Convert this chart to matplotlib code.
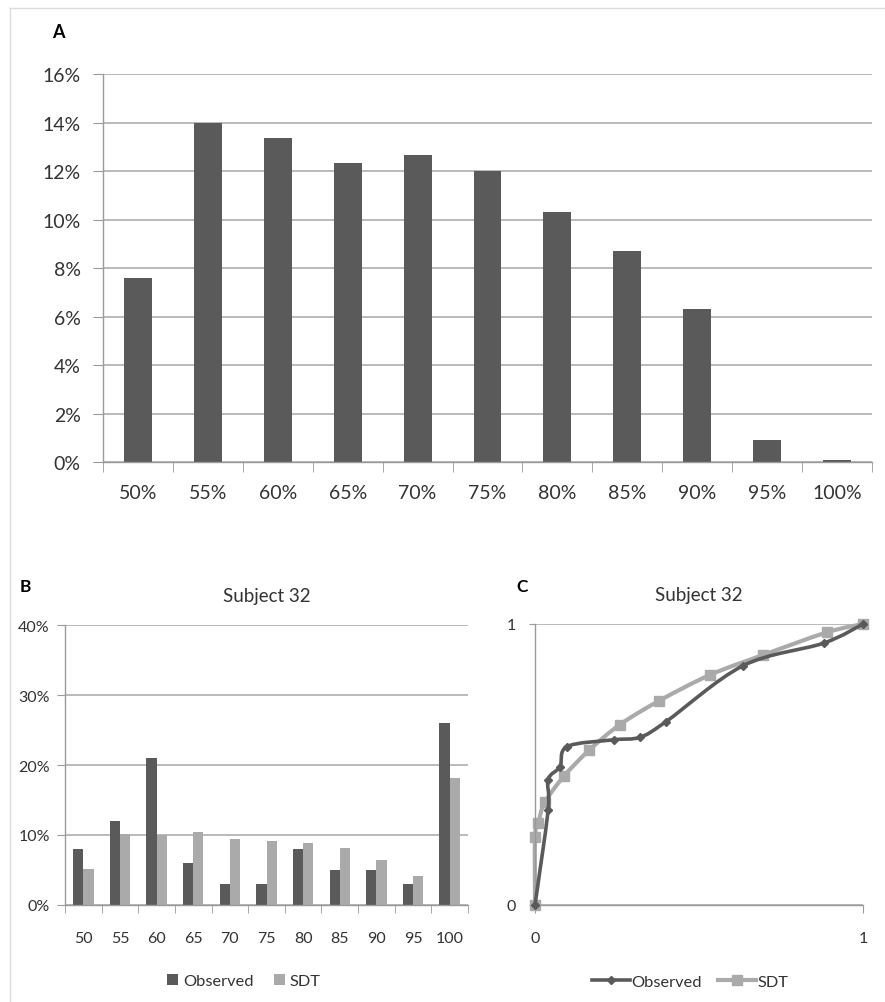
import numpy as np
import matplotlib
matplotlib.use("Agg")
from matplotlib import pyplot as plt
from matplotlib.path import Path
from matplotlib.patches import PathPatch
from matplotlib.lines import Line2D
from matplotlib.ticker import FuncFormatter

plt.rcParams['font.family'] = ['Lato', 'DejaVu Sans']

# panel A
conf_labels = ["50%", "55%", "60%", "65%", "70%", "75%", "80%", "85%", "90%", "95%", "100%"]
conf_share = [7.6, 14.0, 13.35, 12.35, 12.65, 12.0, 10.3, 8.7, 6.3, 0.9, 0.08]

# panel B
subj_labels = ["50", "55", "60", "65", "70", "75", "80", "85", "90", "95", "100"]
subj_obs = [8, 12, 21, 6, 3, 3, 8, 5, 5, 3, 26]
subj_sdt = [5.2, 10.2, 10.0, 10.4, 9.4, 9.2, 8.9, 8.2, 6.4, 4.2, 18.2]

# panel C (ROC)
obs_x = [0, 0.040, 0.040, 0.076, 0.098, 0.240, 0.320, 0.400, 0.635, 0.880, 1.0]
obs_y = [0, 0.337, 0.446, 0.492, 0.564, 0.588, 0.597, 0.653, 0.852, 0.932, 1.0]
sdt_x = [0, 0, 0.010, 0.030, 0.088, 0.166, 0.259, 0.379, 0.534, 0.696, 0.889, 1.0]
sdt_y = [0, 0.241, 0.292, 0.365, 0.458, 0.552, 0.642, 0.727, 0.819, 0.890, 0.970, 1.0]

DARK = "#5a5a5a"
LIGHT = "#aaaaaa"
GRID = "#b4b4b4"
SPINE = "#9a9a9a"
TXT = "#333333"

W, H = 885, 1003
fig = plt.figure(figsize=(W / 100, H / 100), dpi=100)


def box(x0, y0, x1, y1):
    # pixel box -> figure fraction rect
    return [x0 / W, 1 - y1 / H, (x1 - x0) / W, (y1 - y0) / H]


def style(ax):
    for s in ["top", "right"]:
        ax.spines[s].set_visible(False)
    for s in ["left", "bottom"]:
        ax.spines[s].set_color(SPINE)
        ax.spines[s].set_linewidth(1.0)
    ax.set_axisbelow(True)
    ax.yaxis.grid(True, color=GRID, linewidth=1.3)


def smooth(xs, ys):
    pts = np.column_stack([xs, ys]).astype(float)
    verts = [pts[0]]
    codes = [Path.MOVETO]
    n = len(pts)
    for i in range(n - 1):
        p0 = pts[max(i - 1, 0)]
        p1 = pts[i]
        p2 = pts[i + 1]
        p3 = pts[min(i + 2, n - 1)]
        verts += [p1 + (p2 - p0) / 6, p2 - (p3 - p1) / 6, p2]
        codes += [Path.CURVE4] * 3
    return Path(verts, codes)


# ---- A
axA = fig.add_axes(box(103, 75, 872, 463))
style(axA)
xa = np.arange(len(conf_labels))
axA.bar(xa, conf_share, width=0.4, color=DARK)
axA.set_xlim(-0.5, len(conf_labels) - 0.5)
axA.set_ylim(0, 16)
axA.set_yticks(np.arange(0, 17, 2))
axA.yaxis.set_major_formatter(FuncFormatter(lambda v, p: "%d%%" % v))
axA.set_xticks(xa)
axA.set_xticklabels(conf_labels)
axA.set_xticks(np.arange(-0.5, len(conf_labels)), minor=True)
axA.tick_params(axis="x", which="major", length=0, pad=16, labelsize=14, labelcolor=TXT)
axA.tick_params(axis="x", which="minor", length=7, color=SPINE)
axA.tick_params(axis="y", length=7, color=SPINE, pad=9, labelsize=14, labelcolor=TXT)
fig.text(58 / W, 1 - 32 / H, "A", fontsize=13, fontweight="bold", ha="center", va="center", color="black")

# ---- B
axB = fig.add_axes(box(65, 626, 468, 906))
style(axB)
xb = np.arange(len(subj_labels))
axB.bar(xb - 0.14, subj_obs, width=0.28, color=DARK, label="Observed")
axB.bar(xb + 0.14, subj_sdt, width=0.28, color=LIGHT, label="SDT")
axB.set_xlim(-0.5, len(subj_labels) - 0.5)
axB.set_ylim(0, 40)
axB.set_yticks(np.arange(0, 41, 10))
axB.yaxis.set_major_formatter(FuncFormatter(lambda v, p: "%d%%" % v))
axB.set_xticks(xb)
axB.set_xticklabels(subj_labels)
axB.set_xticks(np.arange(-0.5, len(subj_labels)), minor=True)
axB.tick_params(axis="x", which="major", length=0, pad=19, labelsize=11.5, labelcolor=TXT)
axB.tick_params(axis="x", which="minor", length=6, color=SPINE)
axB.tick_params(axis="y", length=6, color=SPINE, pad=5, labelsize=11.5, labelcolor=TXT)
axB.set_title("Subject 32", fontsize=13.5, color=TXT, pad=17)
axB.legend(loc="center", bbox_to_anchor=(0.444, -0.272), ncol=2, frameon=False,
           fontsize=11.8, handlelength=0.7, handleheight=0.7, handletextpad=0.3,
           columnspacing=1.2, labelcolor=TXT)
fig.text(25 / W, 1 - 587 / H, "B", fontsize=12.5, fontweight="bold", ha="center", va="center", color="black")

# ---- C
axC = fig.add_axes(box(535, 625, 863, 906))
style(axC)
axC.add_patch(PathPatch(smooth(obs_x, obs_y), fill=False, edgecolor=DARK, linewidth=2.6,
                        capstyle="round", joinstyle="round", zorder=3, clip_on=False))
axC.plot(obs_x, obs_y, linestyle="none", marker="D", markersize=4.5, color=DARK, zorder=4, clip_on=False)
axC.add_patch(PathPatch(smooth(sdt_x, sdt_y), fill=False, edgecolor=LIGHT, linewidth=3.0,
                        capstyle="round", joinstyle="round", zorder=2, clip_on=False))
axC.plot(sdt_x, sdt_y, linestyle="none", marker="s", markersize=6.5, color=LIGHT, zorder=2.5, clip_on=False)
axC.set_xlim(0, 1)
axC.set_ylim(0, 1)
axC.set_xticks([0, 1])
axC.set_yticks([0, 1])
axC.set_xticklabels(["0", "1"])
axC.set_yticklabels(["0", "1"])
axC.tick_params(axis="x", length=6, color=SPINE, pad=13, labelsize=11.5, labelcolor=TXT)
axC.tick_params(axis="y", length=4, color=SPINE, pad=10, labelsize=11.5, labelcolor=TXT)
axC.set_title("Subject 32", fontsize=13.5, color=TXT, pad=17)
handles = [Line2D([], [], color=DARK, linewidth=2.6, marker="D", markersize=4.5),
           Line2D([], [], color=LIGHT, linewidth=3.0, marker="s", markersize=6.5)]
axC.legend(handles, ["Observed", "SDT"], loc="center", bbox_to_anchor=(0.473, -0.272), ncol=2,
           frameon=False, fontsize=11.8, handlelength=2.3, handletextpad=0.1,
           columnspacing=1.0, labelcolor=TXT)
fig.text(522 / W, 1 - 587 / H, "C", fontsize=12.5, fontweight="bold", ha="center", va="center", color="black")

# chart area frame (top and left edges visible)
fig.add_artist(Line2D([10 / W, 10 / W], [0, 1 - 9 / H], transform=fig.transFigure, color="#dcdcdc", linewidth=1))
fig.add_artist(Line2D([10 / W, 1], [1 - 9 / H, 1 - 9 / H], transform=fig.transFigure, color="#dcdcdc", linewidth=1))

fig.savefig("out.png", dpi=100, facecolor="white")
